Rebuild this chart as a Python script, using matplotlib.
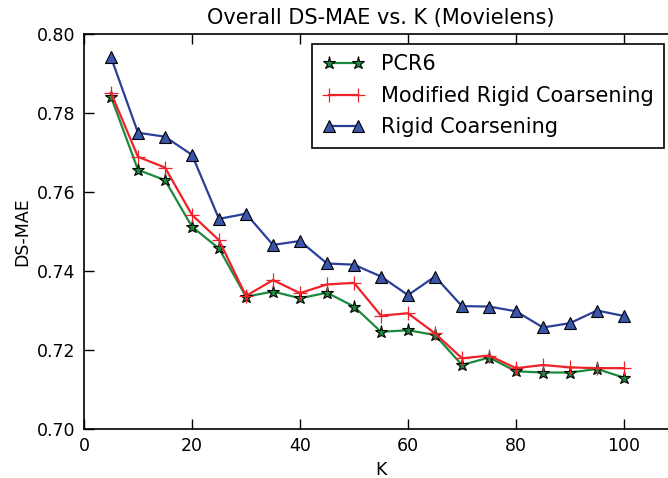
import matplotlib
matplotlib.use("Agg")
import matplotlib.pyplot as plt

plt.rcParams['font.family'] = ['DejaVu Sans']

K = [5, 10, 15, 20, 25, 30, 35, 40, 45, 50, 55, 60, 65, 70, 75, 80, 85, 90, 95, 100]

pcr6 = [0.7841, 0.7656, 0.7630, 0.7512, 0.7457, 0.7335, 0.7348, 0.7331, 0.7345, 0.7310,
        0.7246, 0.7250, 0.7238, 0.7162, 0.7181, 0.7146, 0.7143, 0.7143, 0.7152, 0.7130]

modified_rigid = [0.7851, 0.7689, 0.7662, 0.7542, 0.7478, 0.7337, 0.7377, 0.7344, 0.7366, 0.7370,
                  0.7287, 0.7293, 0.7242, 0.7179, 0.7186, 0.7154, 0.7162, 0.7156, 0.7154, 0.7154]

rigid = [0.7941, 0.7750, 0.7740, 0.7694, 0.7532, 0.7545, 0.7466, 0.7476, 0.7419, 0.7416,
         0.7386, 0.7339, 0.7386, 0.7311, 0.7310, 0.7298, 0.7257, 0.7268, 0.7300, 0.7286]

series_labels = ["PCR6", "Modified Rigid Coarsening", "Rigid Coarsening"]
x_ticks = [0, 20, 40, 60, 80, 100]
y_ticks = [0.70, 0.72, 0.74, 0.76, 0.78, 0.80]

W, H = 668, 478
fig = plt.figure(figsize=(W / 100, H / 100), dpi=100)
ax = fig.add_axes([84 / W, 49 / H, 594 / W, 395 / H])

ax.plot(K, pcr6, color="#1b8a3e", lw=1.6, marker="*", ms=9.5,
        mfc="#1b8a3e", mec="black", mew=0.8, label=series_labels[0])
ax.plot(K, modified_rigid, color="#ee2228", lw=1.6, marker="+", ms=10,
        mew=0.9, label=series_labels[1])
ax.plot(K, rigid, color="#2a3f98", lw=1.6, marker="^", ms=9,
        mfc="#3a56aa", mec="black", mew=0.8, label=series_labels[2])

ax.set_xlim(0, 110)
ax.set_ylim(0.70, 0.80)
ax.set_xticks(x_ticks)
ax.set_yticks(y_ticks)
ax.set_yticklabels([f"{v:.2f}" for v in y_ticks])
ax.tick_params(direction="in", length=7, width=1, top=True, right=True,
               labelsize=12.5, colors="black", pad=6)
for s in ax.spines.values():
    s.set_linewidth(1.2)

ax.set_title("Overall DS-MAE vs. K (Movielens)", fontsize=15, pad=7)
ax.set_xlabel("K", fontsize=12.5)
ax.set_ylabel("DS-MAE", fontsize=12.5)

leg = ax.legend(loc="upper right", bbox_to_anchor=(664 / W, (H - 44) / H),
                bbox_transform=fig.transFigure, borderaxespad=0,
                numpoints=2, fancybox=False, framealpha=1,
                edgecolor="black", fontsize=15, handlelength=2.0,
                handletextpad=0.8, labelspacing=0.55, borderpad=0.5)
leg.get_frame().set_linewidth(1.2)

fig.savefig("out.png", dpi=100, facecolor="white")
